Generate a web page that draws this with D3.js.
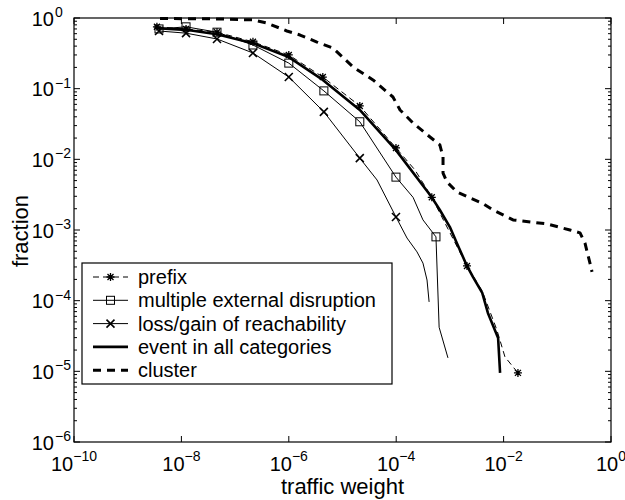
<!DOCTYPE html>
<html>
<head>
<meta charset="utf-8">
<script src="https://cdn.jsdelivr.net/npm/d3@7"></script>
<style>
  html, body { margin: 0; padding: 0; background: #fff; }
  svg { display: block; font-family: "Liberation Sans", Arial, Helvetica, sans-serif; }
</style>
</head>
<body>
<svg id="chart" width="625" height="500"></svg>
<script>
// Traffic weight (x) vs. fraction (y), complementary distributions per category.

const xTickExponents = [-10, -8, -6, -4, -2, 0];
const yTickExponents = [0, -1, -2, -3, -4, -5, -6];

// prefix
const prefixX = [3.5e-9, 1.22e-8, 4.6e-8, 2.15e-7, 1.0e-6, 4.3e-6, 2.1e-5, 9.9e-5, 2.24e-4, 4.6e-4, 2.08e-3, 4.0e-3, 7.5e-3, 1.06e-2, 1.85e-2];
const prefixY = [0.75, 0.70, 0.63, 0.46, 0.30, 0.146, 0.057, 0.0145, 7.06e-3, 2.9e-3, 3.1e-4, 1.37e-4, 3.85e-5, 1.6e-5, 9.5e-6];
const prefixMarkX = [3.5e-9, 1.22e-8, 4.6e-8, 2.15e-7, 1.0e-6, 4.3e-6, 2.1e-5, 9.9e-5, 4.6e-4, 2.08e-3, 1.85e-2];
const prefixMarkY = [0.75, 0.70, 0.63, 0.46, 0.30, 0.146, 0.057, 0.0145, 2.9e-3, 3.1e-4, 9.5e-6];

// multiple external disruption
const multiX = [3.83e-9, 1.22e-8, 4.6e-8, 2.15e-7, 1.0e-6, 4.5e-6, 2.1e-5, 9.9e-5, 2.06e-4, 3.15e-4, 5.5e-4, 6.3e-4, 9.2e-4];
const multiY = [0.70, 0.75, 0.63, 0.415, 0.23, 0.093, 0.034, 5.6e-3, 2.9e-3, 1.39e-3, 8.0e-4, 4.2e-5, 1.55e-5];
const multiMarkX = [3.83e-9, 1.22e-8, 4.6e-8, 2.15e-7, 1.0e-6, 4.5e-6, 2.1e-5, 9.9e-5, 5.5e-4];
const multiMarkY = [0.70, 0.75, 0.63, 0.415, 0.23, 0.093, 0.034, 5.6e-3, 8.0e-4];

// loss/gain of reachability
const lossX = [3.83e-9, 1.22e-8, 4.6e-8, 2.15e-7, 1.0e-6, 4.5e-6, 2.1e-5, 4.4e-5, 9.9e-5, 1.59e-4, 2.44e-4, 3.15e-4, 3.75e-4, 4.1e-4];
const lossY = [0.655, 0.61, 0.505, 0.32, 0.146, 0.047, 0.0104, 5.1e-3, 1.53e-3, 7.7e-4, 4.9e-4, 3.4e-4, 1.96e-4, 9.6e-5];
const lossMarkX = [3.83e-9, 1.22e-8, 4.6e-8, 2.15e-7, 1.0e-6, 4.5e-6, 2.1e-5, 9.9e-5];
const lossMarkY = [0.655, 0.61, 0.505, 0.32, 0.146, 0.047, 0.0104, 1.53e-3];

// event in all categories
const allX = [3.5e-9, 1.22e-8, 4.6e-8, 2.15e-7, 1.0e-6, 4.3e-6, 2.1e-5, 9.9e-5, 4.6e-4, 6.5e-4, 1.0e-3, 1.35e-3, 2.08e-3, 2.7e-3, 4.0e-3, 5.1e-3, 7.9e-3, 8.6e-3];
const allY = [0.72, 0.68, 0.59, 0.44, 0.28, 0.133, 0.050, 0.0135, 2.9e-3, 1.92e-3, 1.1e-3, 6.5e-4, 3.1e-4, 2.16e-4, 1.29e-4, 6.7e-5, 2.96e-5, 9.5e-6];

// cluster
const clusterX = [4.0e-9, 5.2e-8, 2.15e-7, 3.9e-7, 9.2e-7, 1.62e-6, 3.35e-6, 6.65e-6, 1.57e-5, 3.7e-5, 8.7e-5, 1.18e-4, 2.06e-4, 4.26e-4, 6.5e-4, 7.45e-4, 7.45e-4, 8.8e-4, 1.35e-3, 2.37e-3, 3.96e-3, 6.35e-3, 1.5e-2, 6.4e-2, 0.172, 0.265, 0.328, 0.406, 0.443];
const clusterY = [0.985, 0.97, 0.94, 0.85, 0.655, 0.574, 0.457, 0.376, 0.203, 0.133, 0.0762, 0.0499, 0.0327, 0.0207, 0.016, 0.0108, 6.4e-3, 4.8e-3, 3.45e-3, 2.84e-3, 2.41e-3, 1.92e-3, 1.39e-3, 1.22e-3, 1.0e-3, 9.1e-4, 6.5e-4, 3.4e-4, 2.55e-4];

const legendLabels = ["prefix", "multiple external disruption", "loss/gain of reachability", "event in all categories", "cluster"];

const svg = d3.select("#chart");
const box = { left: 74, right: 611, top: 18, bottom: 442 };

const x = d3.scaleLog().domain([1e-10, 1]).range([box.left, box.right]);
const y = d3.scaleLog().domain([1e-6, 1]).range([box.bottom, box.top]);

const zip = (xs, ys) => xs.map((v, i) => [v, ys[i]]);
const line = d3.line().x(d => x(d[0])).y(d => y(d[1]));

// marker shapes
function drawMarker(g, kind, cx, cy) {
  const s = 4;
  if (kind === "square") {
    g.append("rect").attr("x", cx - s).attr("y", cy - s).attr("width", 2 * s).attr("height", 2 * s)
      .attr("fill", "none").attr("stroke", "#000").attr("stroke-width", 1);
  } else if (kind === "cross") {
    g.append("path").attr("d", `M${cx - s},${cy - s}L${cx + s},${cy + s}M${cx - s},${cy + s}L${cx + s},${cy - s}`)
      .attr("stroke", "#000").attr("stroke-width", 1.6).attr("fill", "none");
  } else if (kind === "star") {
    const d = s * 0.75;
    g.append("path").attr("d",
      `M${cx - s},${cy}L${cx + s},${cy}M${cx},${cy - s}L${cx},${cy + s}` +
      `M${cx - d},${cy - d}L${cx + d},${cy + d}M${cx - d},${cy + d}L${cx + d},${cy - d}`)
      .attr("stroke", "#000").attr("stroke-width", 1.3).attr("fill", "none");
  }
}

const series = [
  { pts: zip(prefixX, prefixY), marks: zip(prefixMarkX, prefixMarkY), marker: "star", width: 1, dash: "6,4" },
  { pts: zip(multiX, multiY), marks: zip(multiMarkX, multiMarkY), marker: "square", width: 1, dash: null },
  { pts: zip(lossX, lossY), marks: zip(lossMarkX, lossMarkY), marker: "cross", width: 1, dash: null },
  { pts: zip(allX, allY), marks: [], marker: null, width: 2.6, dash: null },
  { pts: zip(clusterX, clusterY), marks: [], marker: null, width: 3, dash: "8,6" }
];

const plot = svg.append("g");
series.forEach(s => {
  plot.append("path").attr("d", line(s.pts)).attr("fill", "none").attr("stroke", "#000")
    .attr("stroke-width", s.width).attr("stroke-dasharray", s.dash).attr("stroke-linejoin", "round");
});
series.forEach(s => {
  s.marks.forEach(p => drawMarker(plot, s.marker, x(p[0]), y(p[1])));
});

// frame
svg.append("rect").attr("x", box.left).attr("y", box.top)
  .attr("width", box.right - box.left).attr("height", box.bottom - box.top)
  .attr("fill", "none").attr("stroke", "#000").attr("stroke-width", 1.2);

// ticks (inward, on all four sides)
const ticks = svg.append("g").attr("stroke", "#000").attr("stroke-width", 1);
xTickExponents.forEach(e => {
  const px = x(Math.pow(10, e));
  ticks.append("line").attr("x1", px).attr("x2", px).attr("y1", box.bottom).attr("y2", box.bottom - 6);
  ticks.append("line").attr("x1", px).attr("x2", px).attr("y1", box.top).attr("y2", box.top + 6);
});
yTickExponents.forEach(e => {
  const py = y(Math.pow(10, e));
  ticks.append("line").attr("x1", box.left).attr("x2", box.left + 6).attr("y1", py).attr("y2", py);
  ticks.append("line").attr("x1", box.right).attr("x2", box.right - 6).attr("y1", py).attr("y2", py);
  if (e > -6) {
    for (let m = 2; m <= 9; m++) {
      const pm = y(m * Math.pow(10, e - 1));
      ticks.append("line").attr("x1", box.left).attr("x2", box.left + 3).attr("y1", pm).attr("y2", pm);
      ticks.append("line").attr("x1", box.right).attr("x2", box.right - 3).attr("y1", pm).attr("y2", pm);
    }
  }
});

const fmtExp = e => (e < 0 ? "\u2212" + Math.abs(e) : String(e));

// x tick labels
xTickExponents.forEach(e => {
  const t = svg.append("text").attr("x", x(Math.pow(10, e))).attr("y", 471)
    .attr("text-anchor", "middle").attr("font-size", 20);
  t.append("tspan").text("10");
  t.append("tspan").attr("dy", -10).attr("font-size", 14).text(fmtExp(e));
});

// y tick labels
yTickExponents.forEach(e => {
  const py = y(Math.pow(10, e));
  svg.append("text").attr("x", 54).attr("y", py + 7.5).attr("text-anchor", "end")
    .attr("font-size", 20).text("10");
  svg.append("text").attr("x", 55).attr("y", py - 1).attr("text-anchor", "start")
    .attr("font-size", 14).text(fmtExp(e));
});

// axis titles
svg.append("text").attr("x", (box.left + box.right) / 2).attr("y", 494).attr("text-anchor", "middle")
  .attr("font-size", 22).text("traffic weight");
svg.append("text").attr("transform", "translate(28,231) rotate(-90)").attr("text-anchor", "middle")
  .attr("font-size", 22).text("fraction");

// legend
const lg = svg.append("g");
lg.append("rect").attr("x", 82).attr("y", 263).attr("width", 310).attr("height", 121)
  .attr("fill", "#fff").attr("stroke", "#000").attr("stroke-width", 1.2);
legendLabels.forEach((label, i) => {
  const cy = 277 + i * 23.3;
  const s = series[i];
  lg.append("line").attr("x1", 93).attr("x2", 128).attr("y1", cy).attr("y2", cy)
    .attr("stroke", "#000").attr("stroke-width", s.width).attr("stroke-dasharray", s.dash);
  if (s.marker) drawMarker(lg, s.marker, 110.5, cy);
  lg.append("text").attr("x", 138).attr("y", cy + 7).attr("font-size", 20).text(label);
});
</script>
</body>
</html>
